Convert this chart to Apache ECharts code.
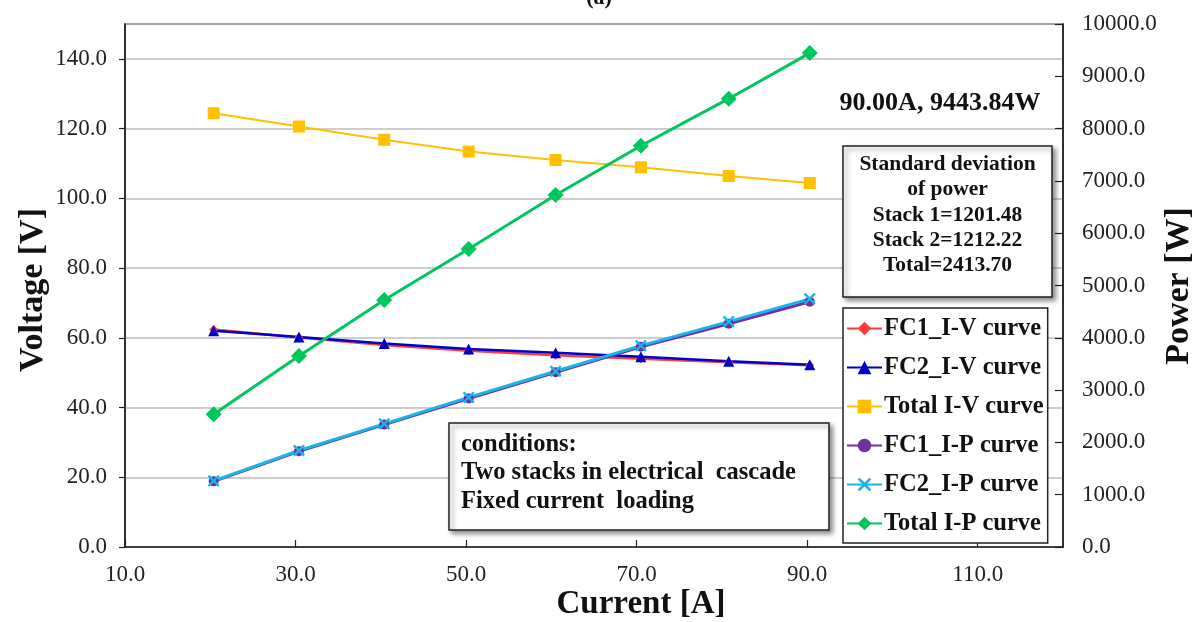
<!DOCTYPE html>
<html>
<head>
<meta charset="utf-8">
<script src="https://cdn.jsdelivr.net/npm/echarts@6/dist/echarts.min.js"></script>
<style>
html,body{margin:0;padding:0;background:#fff;}
#chart{width:1198px;height:622px;}
</style>
</head>
<body>
<div id="chart"></div>
<script>
// ---- data ----
const current = [20.4, 30.4, 40.4, 50.3, 60.5, 70.5, 80.8, 90.3];
const fc1IV   = [62.4, 60.1, 57.9, 56.3, 55.0, 54.0, 53.0, 52.1];
const fc2IV   = [62.0, 60.2, 58.4, 56.8, 55.7, 54.6, 53.3, 52.3];
const totalIV = [124.4, 120.6, 116.8, 113.4, 111.0, 108.9, 106.4, 104.4];
const fc1IP   = [1255, 1830, 2340, 2840, 3340, 3830, 4270, 4690];
const fc2IP   = [1265, 1845, 2355, 2860, 3360, 3850, 4310, 4745];
const totalIP = [2537, 3652, 4723, 5698, 6730, 7673, 8572, 9444];
const seriesNames = ['FC1_I-V curve','FC2_I-V curve','Total I-V curve','FC1_I-P curve','FC2_I-P curve','Total I-P curve'];
const xTicks = {min: 10, max: 120, interval: 20};
const yLeftTicks = {min: 0, max: 150, interval: 20};
const yRightTicks = {min: 0, max: 10000, interval: 1000};
const peakText = '90.00A, 9443.84W';
const stdText = ['Standard deviation', 'of power', 'Stack 1=1201.48', 'Stack 2=1212.22', 'Total=2413.70'];
const condText = ['conditions:', 'Two stacks in electrical  cascade', 'Fixed current  loading'];

const FONT = "'Liberation Serif', 'Times New Roman', serif";
const pair = (ys) => current.map((x, i) => [x, ys[i]]);
const crossPath = 'path://M0,1.4 L1.4,0 L5,3.6 L8.6,0 L10,1.4 L6.4,5 L10,8.6 L8.6,10 L5,6.4 L1.4,10 L0,8.6 L3.6,5 Z';

const chart = echarts.init(document.getElementById('chart'), null, {renderer: 'canvas'});

function lineSeries(name, data, yIdx, color, symbol, size, width) {
  return {
    name, type: 'line', data, yAxisIndex: yIdx,
    symbol, symbolSize: size,
    lineStyle: {color, width},
    itemStyle: {color, borderWidth: 0},
    emphasis: {disabled: true},
    animation: false
  };
}

const option = {
  animation: false,
  grid: {left: 125, right: 135, top: 24, bottom: 75, show: true, borderColor: '#222', borderWidth: 1.5, backgroundColor: 'transparent'},
  legend: {
    orient: 'vertical', left: 843, top: 308, width: 212,
    padding: [8, 4, 7, 3],
    itemWidth: 35, itemHeight: 17, itemGap: 14,
    backgroundColor: '#fff', borderColor: '#222', borderWidth: 1.5,
    textStyle: {fontFamily: FONT, fontWeight: 'bold', fontSize: 24.5, color: '#111', padding: [0, 0, 0, -3]},
    data: seriesNames
  },
  xAxis: {
    type: 'value', min: xTicks.min, max: xTicks.max, interval: xTicks.interval,
    axisLine: {lineStyle: {color: '#222', width: 1.5}},
    axisTick: {inside: true, length: 7, lineStyle: {color: '#222', width: 1.2}},
    axisLabel: {showMaxLabel: false, margin: 16, fontFamily: FONT, fontSize: 23, color: '#222', formatter: v => v.toFixed(1)},
    splitLine: {show: false}
  },
  yAxis: [{
    type: 'value', min: yLeftTicks.min, max: yLeftTicks.max, interval: yLeftTicks.interval, position: 'left',
    axisLine: {show: true, lineStyle: {color: '#222', width: 1.5}},
    axisTick: {show: true, inside: false, length: 6, lineStyle: {color: '#222', width: 1.2}},
    axisLabel: {showMaxLabel: false, margin: 18, fontFamily: FONT, fontSize: 23, color: '#222', formatter: v => v.toFixed(1)},
    splitLine: {show: true, lineStyle: {color: '#bdbdbd', width: 1.5}}
  }, {
    type: 'value', min: yRightTicks.min, max: yRightTicks.max, interval: yRightTicks.interval, position: 'right',
    axisLine: {show: true, lineStyle: {color: '#222', width: 1.5}},
    axisTick: {show: true, inside: true, length: 8, lineStyle: {color: '#222', width: 1.2}},
    axisLabel: {margin: 19, fontFamily: FONT, fontSize: 23, color: '#222', formatter: v => v.toFixed(1)},
    splitLine: {show: false}
  }],
  series: [
    lineSeries(seriesNames[0], pair(fc1IV), 0, '#ff3b3b', 'diamond', 9, 2.5),
    lineSeries(seriesNames[1], pair(fc2IV), 0, '#0000c8', 'triangle', 11, 2.5),
    lineSeries(seriesNames[2], pair(totalIV), 0, '#ffc000', 'rect', 12, 2),
    lineSeries(seriesNames[3], pair(fc1IP), 1, '#7030a0', 'circle', 10, 3),
    lineSeries(seriesNames[4], pair(fc2IP), 1, '#1cb2ec', crossPath, 12, 3),
    lineSeries(seriesNames[5], pair(totalIP), 1, '#00c65e', 'diamond', 16, 3)
  ],
  graphic: [
    {type: 'text', left: 'center', top: -13, style: {text: '(a)', font: `bold 22px ${FONT}`, fill: '#111'}},
    {type: 'text', x: 641, y: 604, style: {text: 'Current [A]', font: `bold 33px ${FONT}`, fill: '#111', align: 'center', verticalAlign: 'middle'}},
    {type: 'text', x: 33, y: 290, rotation: Math.PI / 2, style: {text: 'Voltage [V]', font: `bold 34px ${FONT}`, fill: '#111', align: 'center', verticalAlign: 'middle'}},
    {type: 'text', x: 1179, y: 286, rotation: Math.PI / 2, style: {text: 'Power [W]', font: `bold 34px ${FONT}`, fill: '#111', align: 'center', verticalAlign: 'middle'}},
    {type: 'text', x: 940, y: 103, style: {text: peakText, font: `bold 26px ${FONT}`, fill: '#111', align: 'center', verticalAlign: 'middle'}},
    {type: 'rect', shape: {x: 843, y: 146, width: 209, height: 151}, z: 10,
     style: {fill: '#fff', stroke: '#222', lineWidth: 1.5, shadowBlur: 5, shadowOffsetX: 3, shadowOffsetY: 3, shadowColor: 'rgba(0,0,0,0.45)'}},
    {type: 'text', x: 947.5, y: 152, z: 11, style: {text: stdText.join('\n'), font: `bold 21.5px ${FONT}`, lineHeight: 25.3, fill: '#111', align: 'center', verticalAlign: 'top'}},
    {type: 'rect', shape: {x: 449, y: 423, width: 380, height: 107}, z: 10,
     style: {fill: '#fff', stroke: '#222', lineWidth: 1.5, shadowBlur: 5, shadowOffsetX: 3, shadowOffsetY: 3, shadowColor: 'rgba(0,0,0,0.45)'}},
    {type: 'text', x: 461, y: 430, z: 11, style: {text: condText.join('\n'), font: `bold 24.5px ${FONT}`, lineHeight: 28.5, fill: '#111', align: 'left', verticalAlign: 'top'}}
  ]
};
chart.setOption(option);
</script>
</body>
</html>
